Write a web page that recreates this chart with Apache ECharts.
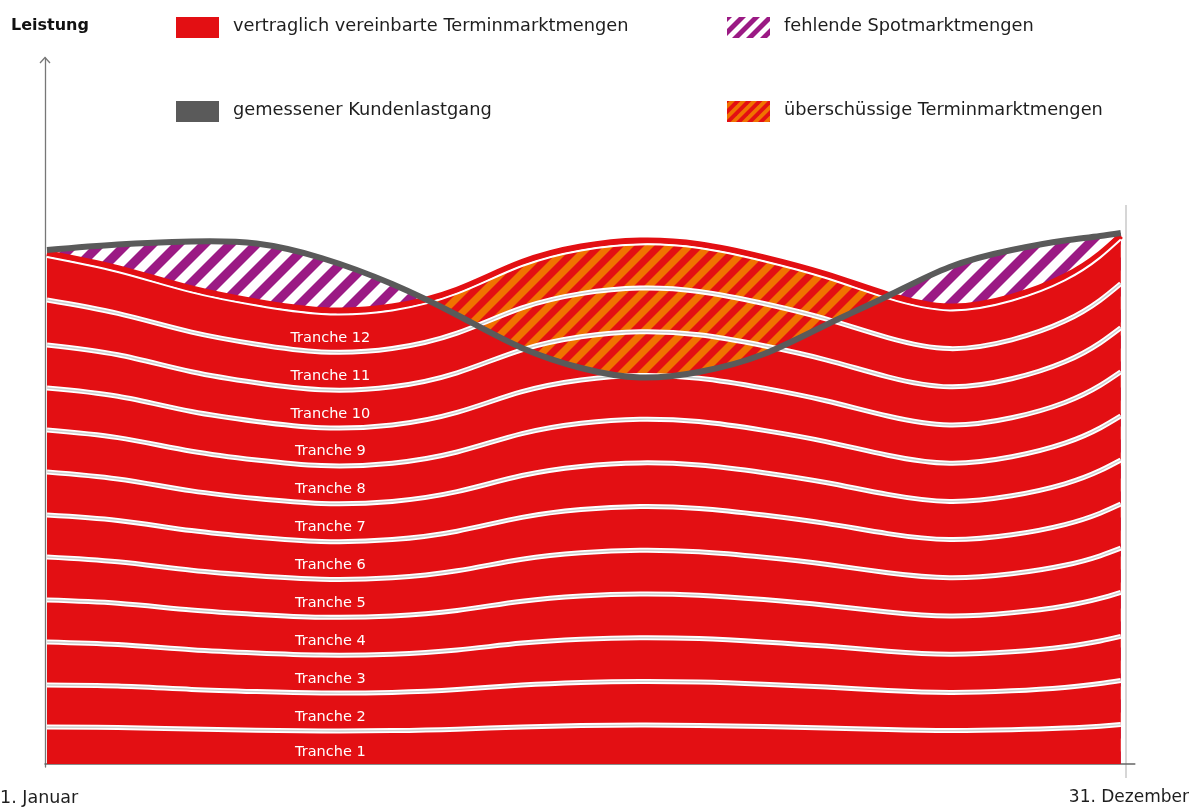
<!DOCTYPE html>
<html><head><meta charset="utf-8">
<script src="https://cdn.jsdelivr.net/npm/echarts@6/dist/echarts.min.js"></script>
<style>html,body{margin:0;padding:0;background:#fff}#c{width:1190px;height:807px}</style>
</head><body><div id="c"></div>
<script>
// ---- data (x = day of year, y = Leistung in arbitrary units) ----
const days = [1, 25, 50, 72, 94, 118, 140, 162, 182, 202, 222, 244, 265, 286, 307, 328, 346, 358, 365];
const tranche1  = [37, 36.6, 34.9, 33.8, 33.1, 33.4, 34.8, 37.1, 38.4, 38.9, 38.6, 37.5, 36.1, 34.4, 33.4, 34.2, 35.9, 37.8, 39.4];
const tranche2  = [42, 41.4, 39.7, 38.6, 37.9, 38.2, 39.6, 41.9, 43.2, 43.7, 43.4, 42.3, 40.9, 39.2, 38.2, 39.0, 40.7, 42.6, 44.1];
const tranche3  = [43, 41.4, 39.7, 38.6, 37.9, 38.2, 39.6, 41.9, 43.2, 43.7, 43.4, 42.3, 40.9, 39.2, 38.2, 39.0, 40.7, 42.6, 44.1];
const tranche4  = [42, 41.4, 39.7, 38.6, 37.9, 38.2, 39.6, 41.9, 43.2, 43.7, 43.4, 42.3, 40.9, 39.2, 38.2, 39.0, 40.7, 42.6, 44.1];
const tranche5  = [43, 41.4, 39.7, 38.6, 37.9, 38.2, 39.6, 41.9, 43.2, 43.7, 43.4, 42.3, 40.9, 39.2, 38.2, 39.0, 40.7, 42.6, 44.1];
const tranche6  = [42, 41.4, 39.7, 38.6, 37.9, 38.2, 39.6, 41.9, 43.2, 43.7, 43.4, 42.3, 40.9, 39.2, 38.2, 39.0, 40.7, 42.6, 44.1];
const tranche7  = [43, 41.4, 39.7, 38.6, 37.9, 38.2, 39.6, 41.9, 43.2, 43.7, 43.4, 42.3, 40.9, 39.2, 38.2, 39.0, 40.7, 42.6, 44.1];
const tranche8  = [42, 41.4, 39.7, 38.6, 37.9, 38.2, 39.6, 41.9, 43.2, 43.7, 43.4, 42.3, 40.9, 39.2, 38.2, 39.0, 40.7, 42.6, 44.1];
const tranche9  = [42, 41.4, 39.7, 38.6, 37.9, 38.2, 39.6, 41.9, 43.2, 43.7, 43.4, 42.3, 40.9, 39.2, 38.2, 39.0, 40.7, 42.6, 44.1];
const tranche10 = [43, 41.4, 39.7, 38.6, 37.9, 38.2, 39.6, 41.9, 43.2, 43.7, 43.4, 42.3, 40.9, 39.2, 38.2, 39.0, 40.7, 42.6, 44.1];
const tranche11 = [45, 41.4, 39.7, 38.6, 37.9, 38.2, 39.6, 41.9, 43.2, 43.7, 43.4, 42.3, 40.9, 39.2, 38.2, 39.0, 40.7, 42.6, 44.1];
const tranche12 = [43, 41.4, 39.7, 38.6, 37.9, 38.2, 39.6, 41.9, 43.2, 43.7, 43.4, 42.3, 40.9, 39.2, 38.2, 39.0, 40.7, 42.6, 44.1];
const load = [514, 519.5, 522.5, 520.5, 506, 480, 449, 416, 396, 386.5, 392, 410, 439, 468, 497, 514, 523.5, 528, 531];
const trancheNames = ['Tranche 1','Tranche 2','Tranche 3','Tranche 4','Tranche 5','Tranche 6','Tranche 7','Tranche 8','Tranche 9','Tranche 10','Tranche 11','Tranche 12'];
const legendLabels = ['vertraglich vereinbarte Terminmarktmengen','fehlende Spotmarktmengen','gemessener Kundenlastgang','überschüssige Terminmarktmengen'];
const xLabels = ['1. Januar', '31. Dezember'];
const axisTitle = 'Leistung';
const surplusRange = [131, 284]; // days where contracted volume exceeds the load
const labelIndex = 4; // data point where the tranche names are written

// ---- derived: cumulative tranche tops ----
const tranches = [tranche1,tranche2,tranche3,tranche4,tranche5,tranche6,tranche7,tranche8,tranche9,tranche10,tranche11,tranche12];
const cums = tranches.map((t, k) => days.map((d, i) => tranches.slice(0, k + 1).reduce((s, tt) => s + tt[i], 0)));
const stackTop = cums[11];
const pairs = arr => days.map((d, i) => [d, arr[i]]);
const labelPoints = tranches.map((t, k) => [days[labelIndex], cums[k][labelIndex] - t[labelIndex] / 2]);

// ---- styles ----
const RED = '#e30f13', PURPLE = '#9b1a84', ORANGE = '#f07300', GRAY = '#5a5a5a';
const FONT = '"DejaVu Sans", sans-serif';
function stripes(c1, c2, P) {
  const cv = document.createElement('canvas');
  cv.width = P; cv.height = P;
  const ctx = cv.getContext('2d');
  ctx.fillStyle = c2; ctx.fillRect(0, 0, P, P);
  ctx.fillStyle = c1;
  for (let k = -1; k <= 2; k++) {
    ctx.beginPath();
    ctx.moveTo(k * P, 0); ctx.lineTo(k * P + P / 2, 0);
    ctx.lineTo(k * P + P / 2 - P, P); ctx.lineTo(k * P - P, P);
    ctx.closePath(); ctx.fill();
  }
  return { image: cv, repeat: 'repeat' };
}
const purplePat = stripes(PURPLE, '#ffffff', 26);
const orangePat = stripes(RED, ORANGE, 20);
const purpleLeg = stripes(PURPLE, '#ffffff', 14);
const orangeLeg = stripes(RED, ORANGE, 11);

// ---- smooth curve through the axis-mapped points (natural cubic spline, drawn as beziers) ----
function toPx(arr, api) { return days.map((d, i) => api.coord([d, arr[i]])); }
function segs(P) {
  const n = P.length, x = P.map(p => p[0]), y = P.map(p => p[1]);
  const h = []; for (let i = 0; i < n - 1; i++) h.push(x[i + 1] - x[i]);
  const M = new Array(n).fill(0);
  const m = n - 2;
  if (m > 0) {
    const A = [], B = [], C = [], D = [];
    for (let i = 1; i <= n - 2; i++) {
      A.push(h[i - 1]); B.push(2 * (h[i - 1] + h[i])); C.push(h[i]);
      D.push(6 * ((y[i + 1] - y[i]) / h[i] - (y[i] - y[i - 1]) / h[i - 1]));
    }
    for (let i = 1; i < m; i++) { const w = A[i] / B[i - 1]; B[i] -= w * C[i - 1]; D[i] -= w * D[i - 1]; }
    const sol = new Array(m); sol[m - 1] = D[m - 1] / B[m - 1];
    for (let i = m - 2; i >= 0; i--) sol[i] = (D[i] - C[i] * sol[i + 1]) / B[i];
    for (let i = 0; i < m; i++) M[i + 1] = sol[i];
  }
  const out = [];
  for (let i = 0; i < n - 1; i++) {
    const s = (y[i + 1] - y[i]) / h[i];
    const d0 = s - h[i] * (2 * M[i] + M[i + 1]) / 6;
    const d1 = s + h[i] * (M[i] + 2 * M[i + 1]) / 6;
    out.push([x[i] + h[i] / 3, y[i] + d0 * h[i] / 3, x[i + 1] - h[i] / 3, y[i + 1] - d1 * h[i] / 3]);
  }
  return out;
}
function fwd(P, cmd) {
  const s = segs(P);
  let str = (cmd || 'M') + P[0][0] + ' ' + P[0][1];
  s.forEach((g, i) => { str += ' C' + g[0] + ' ' + g[1] + ' ' + g[2] + ' ' + g[3] + ' ' + P[i + 1][0] + ' ' + P[i + 1][1]; });
  return str;
}
function rev(P) {
  const s = segs(P), n = P.length;
  let str = ' L' + P[n - 1][0] + ' ' + P[n - 1][1];
  for (let i = n - 2; i >= 0; i--) {
    const g = s[i];
    str += ' C' + g[2] + ' ' + g[3] + ' ' + g[0] + ' ' + g[1] + ' ' + P[i][0] + ' ' + P[i][1];
  }
  return str;
}
function areaToBase(arr, api) {
  const P = toPx(arr, api);
  const b1 = api.coord([days[days.length - 1], 0]), b0 = api.coord([days[0], 0]);
  return fwd(P) + ' L' + b1[0] + ' ' + b1[1] + ' L' + b0[0] + ' ' + b0[1] + ' Z';
}
const strokeStyle = (c, w) => ({ fill: 'none', stroke: c, lineWidth: w, lineJoin: 'round' });

// ---- layout ----
const PX = 2.95, GL = 45, GT = 58, GB = 40;
const xMin = 1 - 2 / PX, xMax = 365 + 14 / PX;
const GW = (xMax - xMin) * PX;
const yMin = -3, yMax = 706;

const base = { type: 'custom', coordinateSystem: 'cartesian2d', animation: false, silent: true, clip: true };
const series = [];
// purple (missing spot volumes): area below the load, shows where it rises above the tranches
series.push(Object.assign({}, base, { name: legendLabels[1], data: pairs(load), z: 1,
  renderItem: (p, api) => p.dataIndex ? null : { type: 'path', shape: { pathData: areaToBase(load, api) }, style: { fill: purplePat } } }));
// contracted tranches (red)
series.push(Object.assign({}, base, { name: legendLabels[0], data: pairs(stackTop), z: 2,
  renderItem: (p, api) => p.dataIndex ? null : { type: 'path', shape: { pathData: areaToBase(stackTop, api) }, style: { fill: RED } } }));
// orange (surplus forward volumes) between tranche top and load, clipped to surplus period
series.push(Object.assign({}, base, { name: legendLabels[3], xAxisIndex: 1, yAxisIndex: 1, data: pairs(stackTop), z: 3,
  renderItem: (p, api) => p.dataIndex ? null : { type: 'path',
    shape: { pathData: fwd(toPx(stackTop, api)) + rev(toPx(load, api)) + ' Z' }, style: { fill: orangePat } } }));
// tranche borders (white with grey core)
cums.slice(0, 11).forEach((c, k) => {
  series.push(Object.assign({}, base, { name: 'Grenze ' + (k + 1), data: pairs(c), z: 4,
    renderItem: (p, api) => {
      if (p.dataIndex) return null;
      const d = fwd(toPx(c, api));
      return { type: 'group', children: [
        { type: 'path', shape: { pathData: d }, style: strokeStyle('#ffffff', 5) },
        { type: 'path', shape: { pathData: d }, style: strokeStyle('#cdcdcd', 1.4) }
      ] };
    } }));
});
// top outline: red edge above a thin white line
series.push(Object.assign({}, base, { name: 'Obergrenze', data: pairs(stackTop), z: 6,
  renderItem: (p, api) => {
    if (p.dataIndex) return null;
    const d = fwd(toPx(stackTop, api));
    return { type: 'group', children: [
      { type: 'path', y: -3.8, shape: { pathData: d }, style: strokeStyle(RED, 6.2) },
      { type: 'path', shape: { pathData: d }, style: strokeStyle('#ffffff', 2) }
    ] };
  } }));
// load curve
series.push(Object.assign({}, base, { name: legendLabels[2], data: pairs(load), z: 8,
  renderItem: (p, api) => p.dataIndex ? null : { type: 'path', shape: { pathData: fwd(toPx(load, api)) }, style: strokeStyle(GRAY, 6) } }));
// tranche names
series.push(Object.assign({}, base, { name: 'Tranchen', data: labelPoints, z: 9,
  renderItem: (p, api) => {
    const c = api.coord([api.value(0), api.value(1)]);
    return { type: 'text', x: c[0] + 9, y: c[1] + 5,
      style: { text: trancheNames[p.dataIndex], fill: '#fff', font: '14.5px ' + FONT, align: 'center', verticalAlign: 'middle' } };
  } }));

const legendItems = [
  { x: 176, y: 17, fill: RED, text: legendLabels[0] },
  { x: 727, y: 17, fill: purpleLeg, text: legendLabels[1] },
  { x: 176, y: 101, fill: GRAY, text: legendLabels[2] },
  { x: 727, y: 101, fill: orangeLeg, text: legendLabels[3] }
];
const graphic = [];
legendItems.forEach(it => {
  graphic.push({ type: 'rect', silent: true, shape: { x: it.x, y: it.y, width: 43, height: 21 }, style: { fill: it.fill } });
  graphic.push({ type: 'text', silent: true, style: { x: it.x + 57, y: it.y + 9, text: it.text, font: '17.8px ' + FONT, fill: '#1e1e1e', align: 'left', verticalAlign: 'middle' } });
});
graphic.push({ type: 'text', silent: true, style: { x: 11, y: 26, text: axisTitle, font: 'bold 16px ' + FONT, fill: '#111', align: 'left', verticalAlign: 'middle' } });
graphic.push({ type: 'text', silent: true, style: { x: 0, y: 798, text: xLabels[0], font: '17.5px ' + FONT, fill: '#1e1e1e', align: 'left', verticalAlign: 'middle' } });
graphic.push({ type: 'text', silent: true, style: { x: 1189, y: 798, text: xLabels[1], font: '17px ' + FONT, fill: '#1e1e1e', align: 'right', verticalAlign: 'middle' } });
graphic.push({ type: 'polyline', silent: true, shape: { points: [[40, 63], [45, 57.5], [50, 63]] }, style: { stroke: '#777', lineWidth: 1.3, fill: null } });
graphic.push({ type: 'line', silent: true, shape: { x1: 1126, y1: 205, x2: 1126, y2: 778 }, style: { stroke: '#d6d6d6', lineWidth: 2 } });

const chart = echarts.init(document.getElementById('c'), null, { renderer: 'canvas' });
chart.setOption({
  backgroundColor: '#fff',
  animation: false,
  grid: [
    { left: GL, top: GT, width: GW, bottom: GB },
    { left: GL + (surplusRange[0] - xMin) * PX, top: GT, width: (surplusRange[1] - surplusRange[0]) * PX, bottom: GB }
  ],
  xAxis: [
    { type: 'value', gridIndex: 0, min: xMin, max: xMax, axisLine: { show: true, lineStyle: { color: '#666', width: 1.5 } },
      axisTick: { show: false }, axisLabel: { show: false }, splitLine: { show: false } },
    { type: 'value', gridIndex: 1, min: surplusRange[0], max: surplusRange[1], show: false }
  ],
  yAxis: [
    { type: 'value', gridIndex: 0, min: yMin, max: yMax, axisLine: { show: true, lineStyle: { color: '#777', width: 1.3 } },
      axisTick: { show: false }, axisLabel: { show: false }, splitLine: { show: false } },
    { type: 'value', gridIndex: 1, min: yMin, max: yMax, show: false }
  ],
  series: series,
  graphic: graphic
});
</script></body></html>
